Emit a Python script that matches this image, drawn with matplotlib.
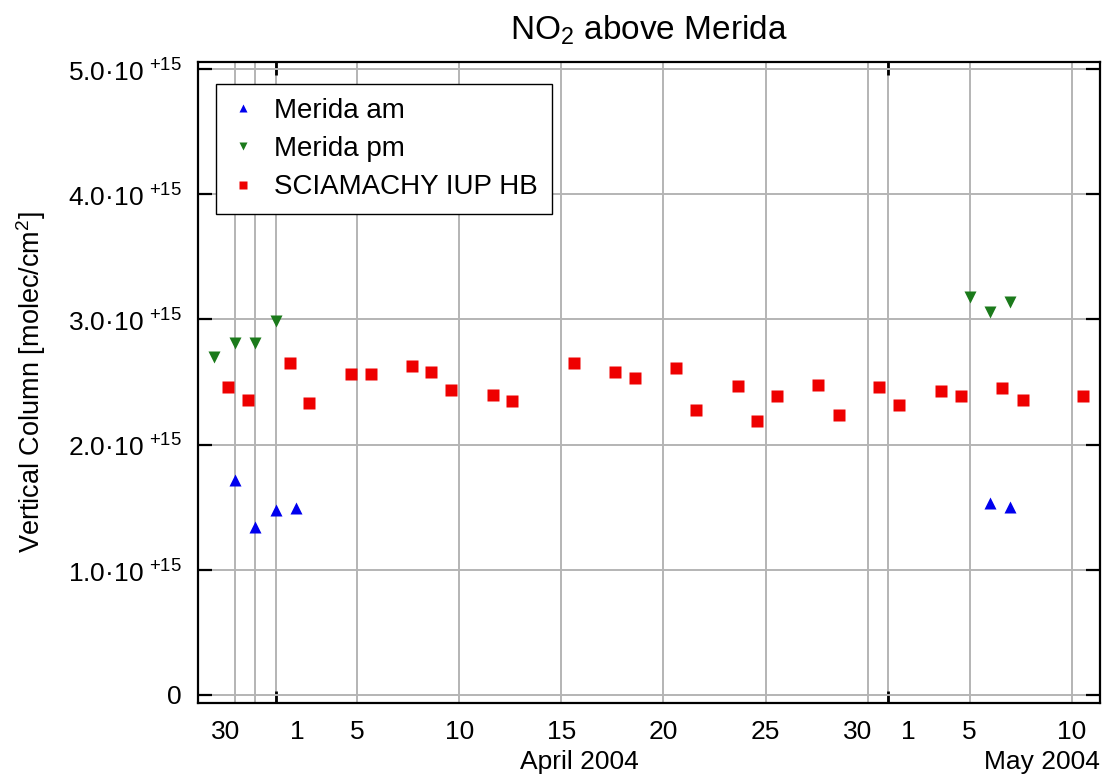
import numpy as np
import matplotlib
matplotlib.use("Agg")
from matplotlib import pyplot as plt

plt.rcParams['font.family'] = ['Liberation Sans', 'DejaVu Sans']

# days counted from 1 April 2004 (0 = Apr 1), columns in 1e15 molec/cm2
am_day = [-2, -1, 0, 1, 35, 36]
am_vcd = [1.72, 1.34, 1.48, 1.49, 1.53, 1.50]

pm_day = [-3, -2, -1, 0, 34, 35, 36]
pm_vcd = [2.70, 2.81, 2.81, 2.99, 3.18, 3.06, 3.14]

sci_day = [-2.32, -1.37, 0.69, 1.63, 3.67, 4.65, 6.68, 7.62, 8.59, 10.63,
           11.59, 14.60, 16.62, 17.59, 19.63, 20.59, 22.64, 23.58, 24.55,
           26.58, 27.61, 29.57, 30.55, 32.60, 33.59, 35.59, 36.61, 39.55]
sci_vcd = [2.46, 2.36, 2.65, 2.33, 2.56, 2.56, 2.63, 2.58, 2.44, 2.40,
           2.35, 2.65, 2.58, 2.53, 2.61, 2.28, 2.47, 2.19, 2.39,
           2.48, 2.24, 2.46, 2.32, 2.43, 2.39, 2.45, 2.36, 2.39]

grid_days = [-2, -1, 0, 4, 9, 14, 19, 24, 29, 30, 34, 39]
label_days = [-2.45, 1.05, 4, 9, 14, 19, 24, 28.5, 31.0, 34, 39]
day_labels = ['30', '1', '5', '10', '15', '20', '25', '30', '1', '5', '10']
month_labels = [(14.9, 'April 2004', 'center'), (40.39, 'May 2004', 'right')]

y_ticks = [0, 1, 2, 3, 4, 5]
y_labels = ['0'] + ['%.1f·10$^{\\ \\mathregular{+15}}$' % v for v in y_ticks[1:]]

fig = plt.figure(figsize=(11.06, 7.78), dpi=100)
ax = fig.add_axes([198/1106, 1 - 703/778, 902/1106, 641/778])

for d in grid_days:
    ax.axvline(d, color='#b4b4b4', lw=1.4, zorder=0)
ax.set_yticks(np.array(y_ticks) * 1e15, y_labels)
ax.grid(axis='y', color='#b4b4b4', lw=1.4, zorder=0)

ax.plot(am_day, np.array(am_vcd) * 1e15, '^', color='#0000ee', ms=8,
        mec='none', label='Merida am', zorder=3)
ax.plot(pm_day, np.array(pm_vcd) * 1e15, 'v', color='#1b7a1b', ms=8,
        mec='none', label='Merida pm', zorder=3)
ax.plot(sci_day, np.array(sci_vcd) * 1e15, 's', color='#ee0000', ms=8,
        mec='none', label='SCIAMACHY IUP HB', zorder=3)

ax.set_xlim(-3.807, 40.39)
ax.set_ylim(-0.064e15, 5.056e15)

ax.set_xticks([0, 30], ['', ''])
ax.set_xticks(label_days, day_labels, minor=True)
ax.tick_params(axis='x', which='major', direction='in', length=9, width=2,
               top=True, bottom=True)
ax.tick_params(axis='x', which='minor', length=0, pad=12, labelsize=19)
ax.tick_params(axis='y', direction='in', length=10, width=1.6, left=True,
               right=True, pad=12, labelsize=19)

for x, txt, ha in month_labels:
    ax.text(x, -0.092, txt, transform=ax.get_xaxis_transform(), ha=ha,
            va='center', fontsize=19)

for s in ax.spines.values():
    s.set_linewidth(1.6)

ax.set_ylabel('Vertical Column [molec/cm$^\\mathregular{2}$]', fontsize=19.5)
ax.yaxis.set_label_coords(-0.166, 0.5)
ax.set_title('NO$_\\mathregular{2}$ above Merida', fontsize=24, pad=16)

leg = ax.legend(loc='upper left', bbox_to_anchor=(0.0196, 0.9657),
                borderaxespad=0, fontsize=20, markerscale=0.65,
                fancybox=False, edgecolor='black', framealpha=1,
                handlelength=1.0, handletextpad=0.6, labelspacing=0.44,
                borderpad=0.5)
leg.get_frame().set_linewidth(1.0)

fig.savefig('out.png', dpi=100)
